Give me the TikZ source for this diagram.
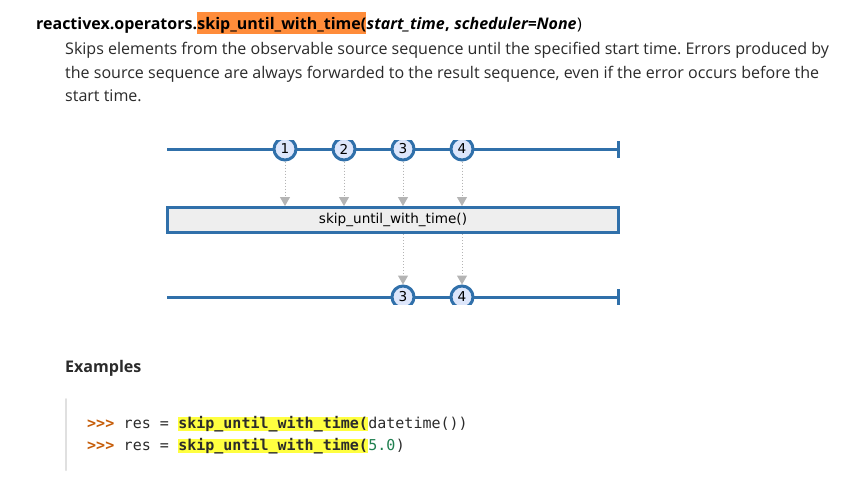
\documentclass[tikz,border=0pt]{standalone}
\usepackage{fontspec}
\setmainfont{Open Sans}
\newfontfamily\codefont{DejaVu Sans Mono}
\newfontfamily\marblefont{DejaVu Sans}
\usetikzlibrary{positioning,arrows.meta}
\definecolor{rxblue}{HTML}{3070AA}
\definecolor{marblefill}{HTML}{DDE6FB}
\definecolor{opfill}{HTML}{EEEEEE}
\definecolor{flowgray}{HTML}{B4B4B4}
\definecolor{sigorange}{HTML}{FF8C3A}
\definecolor{codeyellow}{HTML}{FFFF40}
\definecolor{promptcol}{HTML}{C65D09}
\definecolor{numcol}{HTML}{208050}
\definecolor{bodytext}{HTML}{2B2B2B}
\newcommand{\sigSize}[0]{\fontsize{16}{19}\selectfont}
\newcommand{\bodySize}[0]{\fontsize{16.05}{23}\selectfont}
\newcommand{\codeSize}[0]{\codefont\fontsize{15}{22}\selectfont}
\newcommand{\marbleSize}[0]{\marblefont\fontsize{13.6}{14}\selectfont}
\frenchspacing

\begin{document}
\begin{tikzpicture}[x=1pt,y=-1pt]
  \tikzset{
    txt/.style={inner sep=0pt,anchor=base west},
    namebox/.style={txt,fill=sigorange,text height=17pt,text depth=5pt},
    desc/.style={txt,text=bodytext,font=\bodySize},
    code/.style={txt,text=bodytext,font=\codeSize},
    hilite/.style={code,fill=codeyellow,text height=11pt,text depth=3pt,font=\codeSize\bfseries},
    timeline/.style={rxblue,line width=3pt},
    marble/.style={circle,draw=rxblue,fill=marblefill,line width=3pt,
      minimum size=22pt,inner sep=0pt,font=\marbleSize},
    opbox/.style={draw=rxblue,fill=opfill,line width=3pt,minimum width=451pt,
      minimum height=25pt,inner sep=0pt,font=\marbleSize},
    flow/.style={flowgray,line width=1pt,dash pattern=on 1pt off 2pt,
      -{Triangle[length=9pt,width=10pt,sep=0pt]}}
  }
  \useasboundingbox[fill=white] (0,0) rectangle (861,490);
  % signature
  \node[txt,font=\sigSize\bfseries] (sig-pre) at (36,29) {reactivex.operators.};
  \node[namebox,font=\sigSize\bfseries] (sig-name) at (sig-pre.base east) {skip\_until\_with\_time(};
  \node[txt,font=\sigSize\bfseries\itshape] (sig-arg) at (sig-name.base east) {start\_time};
  \node[txt,font=\sigSize\bfseries] (sig-comma) at (sig-arg.base east) {, \null};
  \node[txt,font=\sigSize\bfseries\itshape] (sig-kw) at (sig-comma.base east) {scheduler=None};
  \node[txt,font=\sigSize] (sig-close) at (sig-kw.base east) {)};
  % description
  \node[desc] (desc-1) at (65,54) {Skips elements from the observable source sequence until the specified start time. Errors produced by};
  \node[desc] (desc-2) at (65,78) {the source sequence are always forwarded to the result sequence, even if the error occurs before the};
  \node[desc] (desc-3) at (65,101) {start time.};
  % marble diagram
  \begin{scope}
    \clip (160,140) rectangle (630,304);
    \draw[timeline] (167,149) -- (618,149);
    \draw[timeline] (618,141) -- (618,158);
    \draw[timeline] (167,297) -- (618,297);
    \draw[timeline] (618,289) -- (618,306);
    \node[opbox] (op) at (393,220) {skip\_until\_with\_time()};
    \node[marble] (in-1) at (285,149) {1};
    \node[marble] (in-2) at (344,149) {2};
    \node[marble] (in-3) at (403,149) {3};
    \node[marble] (in-4) at (462,149) {4};
    \node[marble] (out-3) at (403,297) {3};
    \node[marble] (out-4) at (462,297) {4};
    \draw[flow] (in-1) -- (in-1 |- op.north);
    \draw[flow] (in-2) -- (in-2 |- op.north);
    \draw[flow] (in-3) -- (in-3 |- op.north);
    \draw[flow] (in-4) -- (in-4 |- op.north);
    \draw[flow] (op.south -| out-3) -- (out-3);
    \draw[flow] (op.south -| out-4) -- (out-4);
  \end{scope}
  % examples
  \node[txt,text=bodytext,font=\bodySize\bfseries] (ex-head) at (65,372) {Examples};
  \coordinate (edge-top) at (66,399);
  \coordinate (edge-bot) at (66,470);
  \draw[black!12,line width=2pt,line cap=round] (edge-top) -- (edge-bot);
  \node[code,text=promptcol,font=\codeSize\bfseries] (p-1) at (87,428) {>{}>{}>};
  \node[code] (res-1) at (p-1.base east) {\ res = \null};
  \node[hilite] (call-1) at (res-1.base east) {skip\_until\_with\_time(};
  \node[code] (arg-1) at (call-1.base east) {datetime())};
  \node[code,text=promptcol,font=\codeSize\bfseries] (p-2) at (87,450) {>{}>{}>};
  \node[code] (res-2) at (p-2.base east) {\ res = \null};
  \node[hilite] (call-2) at (res-2.base east) {skip\_until\_with\_time(};
  \node[code,text=numcol] (arg-2) at (call-2.base east) {5.0};
  \node[code] (close-2) at (arg-2.base east) {)};
\end{tikzpicture}
\end{document}
